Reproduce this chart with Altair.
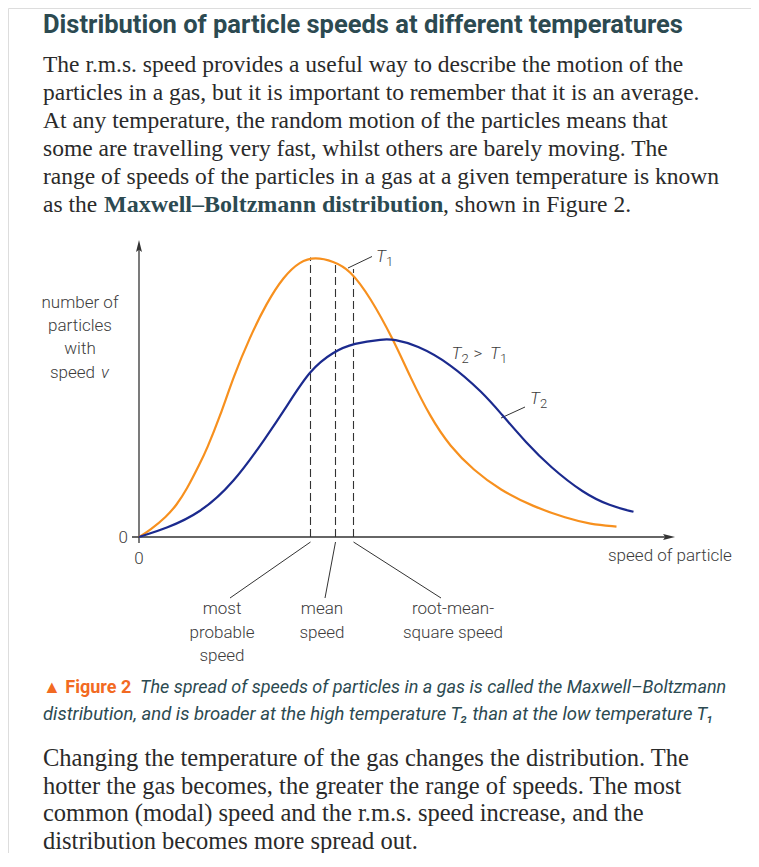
import altair as alt
import pandas as pd

# ---------------- values (arbitrary units) ----------------
t1_speed = [0, 0.22, 0.55, 0.75, 0.95, 1.22, 1.35, 1.62, 1.89, 2.22, 2.55, 2.89, 3.22,
            3.52, 3.89, 4.22, 4.62, 5.09, 5.42, 5.82, 6.22, 6.69, 7.22, 7.89, 8.55, 9.02, 9.55]
t1_count = [0, 0.24, 0.73, 1.14, 1.68, 2.63, 3.11, 4.30, 5.73, 7.15, 8.35, 9.30, 9.85,
            10.0, 9.85, 9.54, 8.58, 7.04, 5.73, 4.30, 3.23, 2.39, 1.68, 1.08, 0.67, 0.46, 0.37]

t2_speed = [0, 0.55, 1.22, 1.89, 2.55, 2.95, 3.42, 3.89, 4.29, 4.89, 5.09, 5.55, 6.22,
            6.89, 7.22, 7.75, 8.22, 8.89, 9.42, 9.89]
t2_count = [0, 0.31, 0.85, 1.92, 3.58, 4.65, 5.98, 6.62, 6.92, 7.07, 7.06, 6.86, 6.20,
            5.13, 4.45, 3.35, 2.51, 1.56, 1.11, 0.90]

marker_speed = [3.43, 3.93, 4.29]          # most probable, mean, r.m.s. (T1)
marker_top = [9.98, 9.83, 9.57]
marker_labels = [["most", "probable", "speed"], ["mean", "speed"], ["root-mean-", "square speed"]]

title_text = "Distribution of particle speeds at different temperatures"
intro_lines = [
    "The r.m.s. speed provides a useful way to describe the motion of the",
    "particles in a gas, but it is important to remember that it is an average.",
    "At any temperature, the random motion of the particles means that",
    "some are travelling very fast, whilst others are barely moving. The",
    "range of speeds of the particles in a gas at a given temperature is known",
]
intro_last = ["as the", "Maxwell\u2013Boltzmann distribution", ", shown in Figure 2."]
caption_tag = "\u25b2 Figure 2"
caption_lines = [
    "The spread of speeds of particles in a gas is called the Maxwell\u2013Boltzmann",
    "distribution, and is broader at the high temperature T\u2082 than at the low temperature T\u2081",
]
outro_lines = [
    "Changing the temperature of the gas changes the distribution. The",
    "hotter the gas becomes, the greater the range of speeds. The most",
    "common (modal) speed and the r.m.s. speed increase, and the",
    "distribution becomes more spread out.",
]
y_title_lines = ["number of", "particles", "with", "speed"]
x_title = "speed of particle"

# ---------------- layout ----------------
W, H = 743, 845
X0, Y0 = 139, 537        # page position of the origin
SX, SY = 50.0, 28.0      # pixels per unit


def ux(px):
    return (px - X0) / SX


def uy(py):
    return (Y0 - py) / SY


xs = alt.Scale(domain=[ux(8), ux(8 + W)], nice=False, zero=False)
ys = alt.Scale(domain=[uy(8 + H), uy(8)], nice=False, zero=False)

ORANGE = "#f7901e"
BLUE = "#1b2a8e"
INK = "#3c3c3c"
TEAL = "#2c4a51"
SERIF = "Liberation Serif"
LABEL_FONT = "Roboto"
LABEL_KW = dict(font=LABEL_FONT, fontSize=17, fontWeight=300, color=INK)
SUB_KW = dict(font=LABEL_FONT, fontSize=13, fontWeight=300, color=INK)


def enc(chart, text=True):
    e = dict(x=alt.X("x:Q", scale=xs, axis=None), y=alt.Y("y:Q", scale=ys, axis=None))
    if text:
        e["text"] = alt.Text("t:N")
    return chart.encode(**e)


def texts(rows, **kw):
    df = pd.DataFrame(rows, columns=["x", "y", "t"])
    return enc(alt.Chart(df).mark_text(baseline="middle", **kw))


# curves
curves = pd.concat([
    pd.DataFrame({"v": t1_speed, "n": t1_count, "T": "T1"}),
    pd.DataFrame({"v": t2_speed, "n": t2_count, "T": "T2"}),
])
curve_layer = alt.Chart(curves).mark_line(interpolate="basis", strokeWidth=2.2).encode(
    x=alt.X("v:Q", scale=xs, axis=None),
    y=alt.Y("n:Q", scale=ys, axis=None),
    color=alt.Color("T:N", scale=alt.Scale(domain=["T1", "T2"], range=[ORANGE, BLUE]), legend=None),
    detail="T:N",
)

# axes (drawn as rules) with arrowheads
axes_df = pd.DataFrame({"x": [ux(132), 0.0], "x2": [ux(668), 0.0],
                        "y": [0.0, uy(543)], "y2": [0.0, uy(247)]})
axes_layer = alt.Chart(axes_df).mark_rule(color="#333333", strokeWidth=1.3).encode(
    x=alt.X("x:Q", scale=xs, axis=None), x2="x2:Q",
    y=alt.Y("y:Q", scale=ys, axis=None), y2="y2:Q")
arrow_r = enc(alt.Chart(pd.DataFrame({"x": [ux(668)], "y": [0.0]})).mark_point(
    shape="M1,0L-0.7,-0.42L-0.4,0L-0.7,0.42Z", size=200, filled=True, color="#333333", opacity=1),
    text=False)
arrow_u = enc(alt.Chart(pd.DataFrame({"x": [0.0], "y": [uy(247)]})).mark_point(
    shape="M0,-1L0.42,0.7L0,0.4L-0.42,0.7Z", size=200, filled=True, color="#333333", opacity=1),
    text=False)

# dashed markers
mk_df = pd.DataFrame({"x": marker_speed, "y": [0.0] * 3, "y2": marker_top})
marker_layer = alt.Chart(mk_df).mark_rule(color="#333333", strokeWidth=1.1, strokeDash=[8, 4]).encode(
    x=alt.X("x:Q", scale=xs, axis=None), y=alt.Y("y:Q", scale=ys, axis=None), y2="y2:Q")

# leader lines
label_cx = [222, 322, 453]
lead_df = pd.DataFrame({
    "x": [m for m in marker_speed] + [ux(348), ux(501)],
    "y": [uy(542)] * 3 + [uy(268), uy(418)],
    "x2": [ux(230), ux(325), ux(441), ux(372), ux(525)],
    "y2": [uy(598)] * 3 + [uy(256.5), uy(407)],
})
lead_layer = alt.Chart(lead_df).mark_rule(color="#333333", strokeWidth=1).encode(
    x=alt.X("x:Q", scale=xs, axis=None), x2="x2:Q",
    y=alt.Y("y:Q", scale=ys, axis=None), y2="y2:Q")

# chart labels
lab_rows = []
for cx, lines in zip(label_cx, marker_labels):
    for i, s in enumerate(lines):
        lab_rows.append([ux(cx), uy(609 + 23.5 * i), s])
lab_layer = texts(lab_rows, align="center", **LABEL_KW)

ytitle_rows = [[ux(80), uy(303 + 23.2 * i), s] for i, s in enumerate(y_title_lines[:3])]
ytitle_layer = texts(ytitle_rows, align="center", **LABEL_KW)
yspeed_layer = texts([[ux(95), uy(303 + 23.2 * 3), y_title_lines[3]]], align="right", **LABEL_KW)
yv_layer = texts([[ux(101), uy(303 + 23.2 * 3), "v"]], align="left", fontStyle="italic", **LABEL_KW)

misc_layer = texts([[ux(608), uy(556), x_title]], align="left", **LABEL_KW)
zero_y = texts([[ux(128), uy(538), "0"]], align="right", **LABEL_KW)
zero_x = texts([[0.0, uy(559), "0"]], align="center", **LABEL_KW)

# temperature labels: italic T with upright subscript
t_main = texts([[ux(376), uy(257), "T"], [ux(451.5), uy(354), "T"], [ux(490), uy(354), "T"],
                [ux(530), uy(399), "T"]],
               align="left", fontStyle="italic", **LABEL_KW)
t_gt = texts([[ux(473.5), uy(354), ">"]], align="left", **LABEL_KW)
t_sub = texts([[ux(386), uy(262), "1"], [ux(461.5), uy(359), "2"], [ux(500), uy(359), "1"],
               [ux(540), uy(404), "2"]],
              align="left", **SUB_KW)

# page text
title_layer = texts([[ux(43), uy(25), title_text]], align="left", font="Roboto",
                    fontSize=25.5, fontWeight="bold", color=TEAL)
LS = 28.0
intro_rows = [[ux(43), uy(65 + LS * i), s] for i, s in enumerate(intro_lines)]
BODY = dict(font=SERIF, fontSize=23.5, color="#2a2a2a")
intro_layer = texts(intro_rows, align="left", **BODY)
last_y = uy(65 + LS * 5)
intro_a = texts([[ux(43), last_y, intro_last[0]]], align="left", **BODY)
intro_b = texts([[ux(104), last_y, intro_last[1]]], align="left", font=SERIF, fontSize=24,
                fontWeight="bold", color=TEAL)
intro_c = texts([[ux(443), last_y, intro_last[2]]], align="left", **BODY)

cap_tag = texts([[ux(43), uy(688), caption_tag]], align="left", font="Roboto", fontSize=18,
                fontWeight="bold", color="#f26a22")
cap_l1 = texts([[ux(140), uy(688), caption_lines[0]]], align="left", font="Roboto", fontSize=18,
               fontStyle="italic", color=TEAL)
cap_l2 = texts([[ux(43), uy(714), caption_lines[1]]], align="left", font="Roboto", fontSize=18.5,
               fontStyle="italic", color=TEAL)

outro_rows = [[ux(43), uy(759 + 27.7 * i), s] for i, s in enumerate(outro_lines)]
outro_layer = texts(outro_rows, align="left", font=SERIF, fontSize=24.5, color="#2a2a2a")

chart = alt.layer(
    axes_layer, arrow_r, arrow_u, marker_layer, lead_layer, curve_layer,
    lab_layer, ytitle_layer, yspeed_layer, yv_layer, misc_layer, zero_y, zero_x,
    t_main, t_gt, t_sub,
    title_layer, intro_layer, intro_a, intro_b, intro_c,
    cap_tag, cap_l1, cap_l2, outro_layer,
).properties(width=W, height=H, padding=0, autosize=alt.AutoSizeParams(type="none")
).configure_view(stroke=None).configure(background="white")

chart.save("out.html", embed_options={"renderer": "svg", "actions": False})
